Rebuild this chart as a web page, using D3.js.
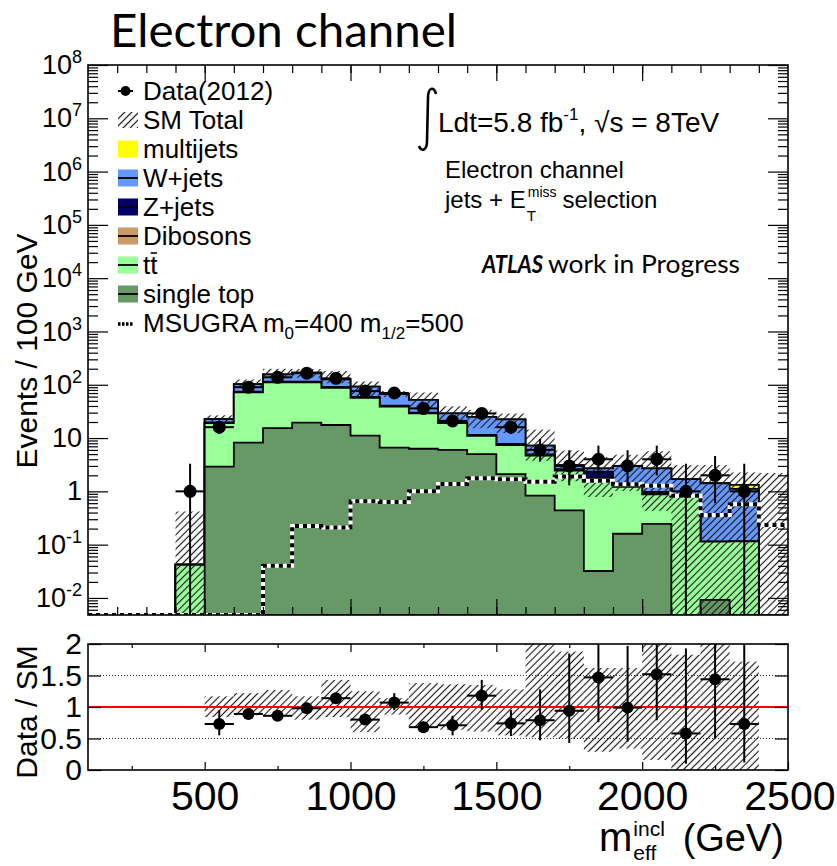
<!DOCTYPE html>
<html>
<head>
<meta charset="utf-8">
<script src="https://cdnjs.cloudflare.com/ajax/libs/d3/7.8.5/d3.min.js"></script>
<style>
  body { margin: 0; background: #fff; }
  svg text { font-family: "Liberation Sans", Arial, sans-serif; fill: #000; }
</style>
</head>
<body>
<svg id="chart" width="837" height="866"></svg>
<script>
// bins of 100 GeV, low edges
var binLow = [100,200,300,400,500,600,700,800,900,1000,1100,1200,1300,1400,1500,1600,1700,1800,1900,2000,2100,2200,2300,2400];

// stack components (events / 100 GeV)
var singleTop = [0,0,0,0,2.9,8.2,15.3,19.5,17.6,11.1,6.6,6.3,6.0,5.0,2.1,0.83,0.44,0.032,0.16,0.245,0,0.0092,0,0];
var ttbar     = [0,0,0,0.042,16.1,63.8,95.7,91.5,70.4,45.9,32.4,22.7,13,6,5.3,3.87,2.01,1.73,1.06,0.635,0.85,0.105,0.115,0];
var dibosons  = [0,0,0,0,0.3,0.8,1.2,1.3,1.0,0.7,0.5,0.4,0.3,0.2,0.15,0.1,0.05,0,0.05,0.05,0,0,0,0];
var zjets     = [0,0,0,0,0.4,1.5,2.0,2.0,1.6,1.2,0.9,0.6,0.4,0.3,0.2,0.12,0.1,0.58,0.1,0.05,0,0,0,0];
var wjets     = [0,0,0,0,3.1,28.7,42.8,54.7,36.4,33.1,26.6,22,9.3,13.5,14.75,2.28,0.5,0.36,1.63,1.72,0.84,1.306,0.995,0];
var multijets = [0,0,0,0,0,0,0,0,0,0,0,0,0,0,0,0,0,0,0,0,0,0,0.21,0];
var msugra    = [0,0,0,0,0,0,0.04,0.224,0.21,0.65,0.63,1.0,1.38,1.76,1.69,1.51,1.89,1.58,1.36,1.28,0.83,0.36,0.57,0.234];

// SM total uncertainty band, relative to SM total (null = none)
var bandLo = [null,null,null,0,0.84,0.87,0.86,0.80,0.84,0.60,0.88,0.68,0.64,0.61,0.55,0.52,0.50,0.29,0.34,0.16,0,0,0,null];
var bandHi = [null,null,null,10,1.17,1.22,1.27,1.17,1.43,1.25,1.14,1.38,1.36,1.35,1.28,2.0,1.88,1.62,1.62,2.1,1.83,2.2,1.72,null];
var lastBinBandTop = 2.2; // 2400-2500 has no MC but still a band

// data
var dataX   = [450,550,650,750,850,950,1050,1150,1250,1350,1450,1550,1650,1750,1850,1950,2050,2150,2250,2350];
var dataN   = [1,16,90,138,165,132,76,70,36,21,29,16,6,3,4,3,4,1,2,1];
var dataUp  = [2.3,5,10.5,12.8,13.9,12.5,9.8,9.4,7.1,5.7,6.4,5,3.6,2.9,3.2,2.9,3.2,2.3,2.6,2.3];
var dataDn  = [1,4,9.5,11.7,12.8,11.5,8.7,8.4,6,4.6,5.4,4,2.4,1.7,2,1.7,2,1,1.4,1];

// ratio panel
var ratioX   = [550,650,750,850,950,1050,1150,1250,1350,1450,1550,1650,1750,1850,1950,2050,2150,2250,2350];
var ratioVal = [0.73,0.89,0.86,0.98,1.14,0.80,1.07,0.68,0.71,1.18,0.74,0.79,0.94,1.47,0.99,1.52,0.58,1.44,0.73];
var ratioUp  = [0.22,0.06,0.05,0.05,0.06,0.07,0.15,0.09,0.15,0.25,0.21,0.49,0.91,0.85,0.98,0.8,1.35,1.4,2.3];
var ratioDn  = [0.18,0.06,0.05,0.05,0.06,0.07,0.12,0.09,0.16,0.22,0.2,0.32,0.51,0.71,0.54,0.73,0.48,0.94,0.61];

var xTickLabels = [500,1000,1500,2000,2500];
var ratioTicks = [0,0.5,1,1.5,2];

var layers = [
  {name: "single top", vals: singleTop, color: "#669966"},
  {name: "tt", vals: ttbar, color: "#99ff99"},
  {name: "Dibosons", vals: dibosons, color: "#cc9966"},
  {name: "Z+jets", vals: zjets, color: "#000066"},
  {name: "W+jets", vals: wjets, color: "#6699ff"},
  {name: "multijets", vals: multijets, color: "#ffff00"}
];

var svg = d3.select("#chart");
var L = 88, R = 788, T = 65, B = 615;
var RT = 644, RB = 770;
var calibriLike = "Lato, 'Open Sans', sans-serif";

var x = d3.scaleLinear().domain([100, 2500]).range([L, R]);
var yMin = Math.pow(10, -2.32);
var y = d3.scaleLog().domain([yMin, 1e8]).range([B, T]);
var yr = d3.scaleLinear().domain([0, 2]).range([RB, RT]);

function yv(v) { return y(Math.max(v, yMin)); }

var defs = svg.append("defs");
var pat = defs.append("pattern").attr("id", "hatch").attr("patternUnits", "userSpaceOnUse")
  .attr("width", 5).attr("height", 5).attr("patternTransform", "rotate(45)");
pat.append("line").attr("x1", 2.5).attr("y1", 0).attr("x2", 2.5).attr("y2", 5)
  .attr("stroke", "#1a1a1a").attr("stroke-width", 1.15);
defs.append("clipPath").attr("id", "clipMain").append("rect")
  .attr("x", L).attr("y", T).attr("width", R - L).attr("height", B - T);
defs.append("clipPath").attr("id", "clipRatio").append("rect")
  .attr("x", L).attr("y", RT).attr("width", R - L).attr("height", RB - RT);

var main = svg.append("g").attr("clip-path", "url(#clipMain)");

// cumulative stack
var cum = [];
layers.forEach(function(l, k) {
  cum[k] = l.vals.map(function(v, i) { return v + (k > 0 ? cum[k - 1][i] : 0); });
});
var total = cum[cum.length - 1];

function stepPath(vals) {
  var p = "M" + x(100) + "," + B;
  vals.forEach(function(v, i) {
    var yy = v > 0 ? yv(v) : B + 2;
    p += "L" + x(binLow[i]) + "," + yy + "L" + x(binLow[i] + 100) + "," + yy;
  });
  return p + "L" + x(2500) + "," + B + "Z";
}

for (var k = layers.length - 1; k >= 0; k--) {
  main.append("path").attr("d", stepPath(cum[k]))
    .attr("fill", layers[k].color).attr("stroke", "#000").attr("stroke-width", 1.8);
}

// SM total hatch
binLow.forEach(function(b, i) {
  var top, bot;
  if (bandHi[i] == null) {
    if (i == binLow.length - 1) { top = lastBinBandTop; bot = 0; } else return;
  } else {
    top = total[i] * bandHi[i]; bot = total[i] * bandLo[i];
  }
  var y1 = yv(top), y2 = bot > 0 ? yv(bot) : B;
  main.append("rect").attr("x", x(b)).attr("width", x(b + 100) - x(b))
    .attr("y", y1).attr("height", y2 - y1).attr("fill", "url(#hatch)");
});

// MSUGRA dotted step line
var msLine = d3.line().curve(d3.curveStepAfter).x(function(d) { return x(d[0]); }).y(function(d) { return d[1] > 0 ? yv(d[1]) : B; });
var msPts = binLow.map(function(b, i) { return [b, msugra[i]]; });
msPts.push([2500, msugra[msugra.length - 1]]);
main.append("path").attr("d", msLine(msPts)).attr("fill", "none").attr("stroke", "#fff").attr("stroke-width", 4);
main.append("path").attr("d", msLine(msPts)).attr("fill", "none").attr("stroke", "#000").attr("stroke-width", 4)
  .attr("stroke-dasharray", "4,4");

// data points
var dg = main.append("g");
dataX.forEach(function(c, i) {
  var yy = yv(dataN[i]);
  var lo = dataN[i] - dataDn[i];
  dg.append("line").attr("x1", x(c - 50)).attr("x2", x(c + 50)).attr("y1", yy).attr("y2", yy)
    .attr("stroke", "#000").attr("stroke-width", 2);
  dg.append("line").attr("x1", x(c)).attr("x2", x(c)).attr("y1", yv(dataN[i] + dataUp[i]))
    .attr("y2", lo > 0 ? yv(lo) : B + 5).attr("stroke", "#000").attr("stroke-width", 2);
  dg.append("circle").attr("cx", x(c)).attr("cy", yy).attr("r", 6.5).attr("fill", "#000");
});

// main axes (ticks point inwards)
var decades = [1e-2,1e-1,1,10,1e2,1e3,1e4,1e5,1e6,1e7,1e8];
var minors = [];
decades.forEach(function(d) { for (var m = 2; m <= 9; m++) if (d * m < 1e8) minors.push(d * m); });
minors.push(0.005, 0.006, 0.007, 0.008, 0.009);

function supLabel(sel) {
  sel.each(function(d) {
    var t = d3.select(this).text("");
    var e = Math.round(Math.log10(d));
    if (e == 0) t.text("1");
    else if (e == 1) t.text("10");
    else {
      t.append("tspan").text("10");
      t.append("tspan").attr("dy", -11).attr("font-size", 18).text(e);
    }
  });
}

var yAx = svg.append("g").attr("transform", "translate(" + L + ",0)")
  .call(d3.axisLeft(y).tickValues(decades).tickSize(-20).tickPadding(6));
yAx.selectAll("text").attr("font-size", 27).call(supLabel);
svg.append("g").attr("transform", "translate(" + L + ",0)")
  .call(d3.axisLeft(y).tickValues(minors).tickSize(-10).tickFormat(""));
svg.append("g").attr("transform", "translate(" + R + ",0)")
  .call(d3.axisRight(y).tickValues(decades).tickSize(-20).tickFormat(""));
svg.append("g").attr("transform", "translate(" + R + ",0)")
  .call(d3.axisRight(y).tickValues(minors).tickSize(-10).tickFormat(""));

var xMinor = binLow.slice(1);
var xMajor = [500,1000,1500,2000];
[[B, d3.axisBottom], [T, d3.axisTop]].forEach(function(a) {
  svg.append("g").attr("transform", "translate(0," + a[0] + ")")
    .call(a[1](x).tickValues(xMinor).tickSize(-8).tickFormat(""));
  svg.append("g").attr("transform", "translate(0," + a[0] + ")")
    .call(a[1](x).tickValues(xMajor).tickSize(-16).tickFormat(""));
});

svg.selectAll(".domain").remove();
svg.selectAll(".tick line").attr("stroke", "#000").attr("stroke-width", 1.2);
svg.append("rect").attr("x", L).attr("y", T).attr("width", R - L).attr("height", B - T)
  .attr("fill", "none").attr("stroke", "#000").attr("stroke-width", 1.6);

svg.append("text").attr("transform", "translate(37,351) rotate(-90)").attr("text-anchor", "middle")
  .attr("font-size", 30).text("Events / 100 GeV");

// ratio panel
var rg = svg.append("g").attr("clip-path", "url(#clipRatio)");
binLow.forEach(function(b, i) {
  if (i < 4 || i > 22) return;
  var y1 = yr(Math.min(bandHi[i], 2.1)), y2 = yr(bandLo[i]);
  rg.append("rect").attr("x", x(b)).attr("width", x(b + 100) - x(b))
    .attr("y", y1).attr("height", y2 - y1).attr("fill", "url(#hatch)");
});
[0.5, 1.5].forEach(function(v) {
  rg.append("line").attr("x1", L).attr("x2", R).attr("y1", yr(v)).attr("y2", yr(v))
    .attr("stroke", "#000").attr("stroke-width", 0.8).attr("stroke-dasharray", "1,2");
});
rg.append("line").attr("x1", L).attr("x2", R).attr("y1", yr(1)).attr("y2", yr(1))
  .attr("stroke", "#ff0000").attr("stroke-width", 2);
ratioX.forEach(function(c, i) {
  var yy = yr(ratioVal[i]);
  rg.append("line").attr("x1", x(c - 50)).attr("x2", x(c + 50)).attr("y1", yy).attr("y2", yy)
    .attr("stroke", "#000").attr("stroke-width", 2);
  rg.append("line").attr("x1", x(c)).attr("x2", x(c)).attr("y1", yr(ratioVal[i] + ratioUp[i]))
    .attr("y2", yr(ratioVal[i] - ratioDn[i])).attr("stroke", "#000").attr("stroke-width", 2);
  rg.append("circle").attr("cx", x(c)).attr("cy", yy).attr("r", 6).attr("fill", "#000");
});

var rAx = svg.append("g").attr("transform", "translate(" + L + ",0)")
  .call(d3.axisLeft(yr).tickValues(ratioTicks).tickSize(-13).tickPadding(6).tickFormat(function(d) { return String(d); }));
rAx.selectAll("text").attr("font-size", 30);
svg.append("g").attr("transform", "translate(" + R + ",0)")
  .call(d3.axisRight(yr).tickValues(ratioTicks).tickSize(-13).tickFormat(""));
var rMinor = [250,750,1250,1750,2250];
var bx = svg.append("g").attr("transform", "translate(0," + RB + ")")
  .call(d3.axisBottom(x).tickValues(xTickLabels).tickSize(-8).tickPadding(11).tickFormat(d3.format("d")));
bx.selectAll("text").attr("font-size", 41);
bx.selectAll(".tick").filter(function(d) { return d == 2500; }).select("text").attr("text-anchor", "end").attr("x", 47);
svg.append("g").attr("transform", "translate(0," + RB + ")")
  .call(d3.axisBottom(x).tickValues(rMinor).tickSize(-4).tickFormat(""));
svg.append("g").attr("transform", "translate(0," + RT + ")")
  .call(d3.axisTop(x).tickValues(xMajor).tickSize(-8).tickFormat(""));
svg.append("g").attr("transform", "translate(0," + RT + ")")
  .call(d3.axisTop(x).tickValues(rMinor).tickSize(-4).tickFormat(""));
svg.selectAll(".domain").remove();
svg.selectAll(".tick line").attr("stroke", "#000").attr("stroke-width", 1.2);
svg.append("rect").attr("x", L).attr("y", RT).attr("width", R - L).attr("height", RB - RT)
  .attr("fill", "none").attr("stroke", "#000").attr("stroke-width", 1.6);

svg.append("text").attr("transform", "translate(37,712) rotate(-90)").attr("text-anchor", "middle")
  .attr("font-size", 30).text("Data / SM");

// x axis title m_eff^incl (GeV)
var xt = svg.append("g");
var mTxt = xt.append("text").attr("x", 599).attr("y", 851).attr("font-size", 40).text("m");
var mw = mTxt.node().getComputedTextLength();
xt.append("text").attr("x", 600 + mw).attr("y", 836).attr("font-size", 21).text("incl");
xt.append("text").attr("x", 600 + mw).attr("y", 860).attr("font-size", 21).text("eff");
xt.append("text").attr("x", 784).attr("y", 851).attr("font-size", 38).attr("text-anchor", "end").text("(GeV)");

// title
svg.append("text").attr("x", 110).attr("y", 47).style("font-family", calibriLike)
  .attr("font-size", 46).attr("textLength", 347).attr("lengthAdjust", "spacingAndGlyphs").text("Electron channel");

// legend
var lx = 118, ly0 = 100, ldy = 29, lfs = 26;
var lg = svg.append("g");
function legText(i, s) {
  return lg.append("text").attr("x", 143).attr("y", ly0 + i * ldy).attr("font-size", lfs).text(s);
}
var cy0 = ly0 - 9;
lg.append("line").attr("x1", lx).attr("x2", lx + 15).attr("y1", cy0).attr("y2", cy0).attr("stroke", "#000").attr("stroke-width", 2);
lg.append("circle").attr("cx", lx + 7.5).attr("cy", cy0).attr("r", 5).attr("fill", "#000");
legText(0, "Data(2012)");
lg.append("rect").attr("x", lx).attr("y", ly0 + ldy - 17).attr("width", 20).attr("height", 16).attr("fill", "url(#hatch)");
legText(1, "SM Total");
var legOrder = [5, 4, 3, 2, 1, 0];
legOrder.forEach(function(k, j) {
  var i = j + 2, cy = ly0 + i * ldy - 9;
  lg.append("rect").attr("x", lx).attr("y", cy - 8.5).attr("width", 20).attr("height", 17).attr("fill", layers[k].color);
  if (k != 5) lg.append("line").attr("x1", lx).attr("x2", lx + 20).attr("y1", cy).attr("y2", cy).attr("stroke", "#000").attr("stroke-width", 1.8);
  if (k == 1) {
    // t t-bar: second t gets an overline
    var t1 = legText(i, "t");
    var w = t1.node().getComputedTextLength();
    legText(i, "t").attr("x", 143 + w);
    lg.append("line").attr("x1", 143 + w + 0.5).attr("x2", 143 + 2 * w - 0.5)
      .attr("y1", ly0 + i * ldy - 21).attr("y2", ly0 + i * ldy - 21).attr("stroke", "#000").attr("stroke-width", 1.6);
  } else legText(i, layers[k].name);
});
var msy = ly0 + 8 * ldy - 8;
lg.append("line").attr("x1", lx).attr("x2", lx + 16).attr("y1", msy).attr("y2", msy).attr("stroke", "#000")
  .attr("stroke-width", 3.5).attr("stroke-dasharray", "2.5,1.5");
var mt = legText(8, "MSUGRA m");
mt.append("tspan").attr("font-size", 17).attr("dy", 7).text("0");
mt.append("tspan").attr("dy", -7).text("=400 m");
mt.append("tspan").attr("font-size", 17).attr("dy", 7).text("1/2");
mt.append("tspan").attr("dy", -7).text("=500");

// luminosity and selection labels
svg.append("path").attr("d", "M436,94 C434,86 428,87 428,98 L427,141 C427,151 421,152 419,146")
  .attr("fill", "none").attr("stroke", "#000").attr("stroke-width", 2.6);
var lt = svg.append("text").attr("x", 438).attr("y", 132).attr("font-size", 28).text("Ldt=5.8 fb");
lt.append("tspan").attr("font-size", 17).attr("dy", -12).text("-1");
lt.append("tspan").attr("dy", 12).text(", \u221As = 8TeV");

svg.append("text").attr("x", 445).attr("y", 178).attr("font-size", 24).text("Electron channel");
var jt = svg.append("text").attr("x", 445).attr("y", 208).attr("font-size", 24).text("jets + E");
var jw = jt.node().getComputedTextLength();
var mx = 445 + jw + 2;
var missT = svg.append("text").attr("x", mx).attr("y", 197).attr("font-size", 14).text("miss");
svg.append("text").attr("x", mx - 1).attr("y", 221).attr("font-size", 15).text("T");
var missW = missT.node().getComputedTextLength();
svg.append("text").attr("x", mx + missW + 6).attr("y", 208).attr("font-size", 24).text("selection");

svg.append("text").attr("x", 482).attr("y", 273).style("font-family", calibriLike)
  .attr("font-size", 25).attr("font-weight", "bold").attr("font-style", "italic")
  .attr("textLength", 61).attr("lengthAdjust", "spacingAndGlyphs").text("ATLAS");
svg.append("text").attr("x", 548).attr("y", 273).style("font-family", calibriLike)
  .attr("font-size", 25).attr("textLength", 192).attr("lengthAdjust", "spacingAndGlyphs").text("work in Progress");
</script>
</body>
</html>
